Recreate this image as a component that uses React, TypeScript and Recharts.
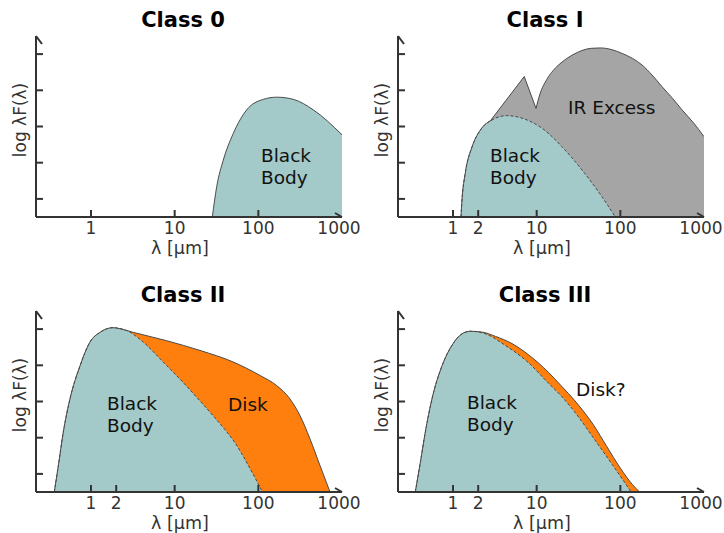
import React from 'react';
import { ComposedChart, Area, Line, XAxis, YAxis } from 'recharts';

// wavelength (µm) and log λF(λ)

// Class 0
const c0BodyLam = [28.2, 31.8, 38.1, 50.2, 72.6, 114.7, 165.7, 262, 454, 1000];
const c0BodyFlux = [0, 0.84, 1.57, 2.31, 2.96, 3.25, 3.31, 3.25, 2.96, 2.27];

// Class I
const c1BodyLam = [1.245, 1.28, 1.4, 1.69, 2.12, 2.92, 4.4, 6.68, 11.6, 20.1, 34.8, 60.3, 87.1];
const c1BodyFlux = [0, 0.47, 1.21, 1.94, 2.4, 2.68, 2.8, 2.73, 2.45, 1.94, 1.3, 0.56, 0];
const c1FeatureLam = [2.8, 7.1, 9.82];
const c1FeatureFlux = [2.66, 3.88, 3.0];
const c1HumpLam = [9.82, 10.96, 13.2, 15.8, 20.1, 27, 34.8, 45, 57.6, 80, 104.6, 140, 181.7, 240, 315, 420, 546, 750, 1000];
const c1HumpFlux = [3.0, 3.4, 3.8, 4.05, 4.28, 4.48, 4.6, 4.66, 4.67, 4.62, 4.52, 4.38, 4.2, 3.92, 3.6, 3.28, 2.96, 2.6, 2.22];

// Class II
const c2BodyLam = [0.364, 0.407, 0.466, 0.56, 0.74, 0.97, 1.28, 1.82, 2.67, 4.22, 7.3, 12.7, 20, 30, 40, 52.6, 70, 90, 112];
const c2BodyFlux = [0, 0.73, 1.65, 2.57, 3.49, 4.14, 4.41, 4.54, 4.46, 4.14, 3.59, 3.02, 2.52, 2.06, 1.72, 1.36, 0.88, 0.42, 0];
const c2DiskLam = [0.364, 0.407, 0.466, 0.56, 0.74, 0.97, 1.28, 1.82, 2.22, 3.2, 8.0, 20.1, 50.2, 104.6, 165.7, 239, 315, 414, 546, 719];
const c2DiskFlux = [0, 0.73, 1.65, 2.57, 3.49, 4.14, 4.41, 4.54, 4.51, 4.41, 4.18, 3.91, 3.59, 3.22, 2.94, 2.57, 2.11, 1.47, 0.73, 0];

// Class III
const c3BodyLam = [0.354, 0.407, 0.466, 0.56, 0.74, 0.97, 1.28, 1.61, 2.43, 4.22, 8.0, 13.9, 19.0, 30.1, 47.5, 80, 135];
const c3BodyFlux = [0, 0.82, 1.65, 2.57, 3.49, 4.05, 4.37, 4.44, 4.37, 4.05, 3.57, 3.0, 2.69, 2.14, 1.5, 0.76, 0];
const c3DiskLam = [0.354, 0.407, 0.466, 0.56, 0.74, 0.97, 1.28, 1.61, 2.2, 3.2, 5.07, 8.0, 13.9, 19.0, 30.1, 47.5, 68.7, 100, 140, 170];
const c3DiskFlux = [0, 0.82, 1.65, 2.57, 3.49, 4.05, 4.37, 4.44, 4.42, 4.3, 4.1, 3.79, 3.3, 2.97, 2.46, 1.86, 1.26, 0.66, 0.2, 0];

const xTicksClass0 = [1, 10, 100, 1000];
const xTicks = [1, 2, 10, 100, 1000];
const yTicks = [0.5, 1.5, 2.5, 3.5, 4.5];

const zip = (lam: number[], flux: number[]) => lam.map((l, i) => ({ lam: l, flux: flux[i] }));

const W = 362;
const H = 260;
const TEAL = '#a3c9c9';
const GREY = '#a5a5a5';
const ORANGE = '#ff7f0e';
const INK = '#4a4a4a';
const AXIS = '#333333';
const FONT = 'DejaVu Sans';

const XTick = (props: any) => {
  const { x, y, payload } = props;
  const last = payload.value >= 1000;
  return (
    <g>
      {!last && <line x1={x} x2={x} y1={y} y2={y - 7} stroke={AXIS} strokeWidth={2} />}
      <text x={last ? x - 3 : x} y={y + 17} textAnchor="middle" fontSize={17} fill="#333" fontFamily={FONT}>
        {payload.value}
      </text>
    </g>
  );
};

const YTick = (props: any) => {
  const { x, y } = props;
  return <line x1={x} x2={x + 7} y1={y} y2={y} stroke={AXIS} strokeWidth={2} />;
};

type Label = { lines: string[]; x: number; y: number };

function Panel({ left, top, title, ticks, labels, children }: {
  left: number; top: number; title: string; ticks: number[]; labels: Label[]; children: React.ReactNode;
}) {
  return (
    <div style={{ position: 'absolute', left, top, width: W, height: H }}>
      <ComposedChart width={W} height={H} margin={{ top: 36, right: 20, bottom: 0, left: 0 }}>
        <XAxis
          dataKey="lam"
          type="number"
          scale="log"
          domain={[0.22, 1000]}
          allowDataOverflow
          ticks={ticks}
          interval={0}
          height={43}
          tickSize={0}
          tickMargin={0}
          tickLine={false}
          tick={<XTick />}
          axisLine={{ stroke: AXIS, strokeWidth: 2, markerEnd: 'url(#xArrow)' }}
        />
        <YAxis
          type="number"
          domain={[0, 5]}
          ticks={yTicks}
          interval={0}
          width={36}
          tickSize={0}
          tickMargin={0}
          tickLine={false}
          tick={<YTick />}
          axisLine={{ stroke: AXIS, strokeWidth: 2, markerStart: 'url(#yArrow)' }}
        />
        {children}
      </ComposedChart>
      <svg width={W} height={H} style={{ position: 'absolute', left: 0, top: 0, pointerEvents: 'none' }} fontFamily={FONT}>
        <text x={183} y={27} textAnchor="middle" fontSize={21} fontWeight="bold" fill="#000">{title}</text>
        <text transform="translate(26,120) rotate(-90)" textAnchor="middle" fontSize={17} fill="#333">log λF(λ)</text>
        <text x={180} y={254} textAnchor="middle" fontSize={17.5} fill="#333">λ [μm]</text>
        {labels.map((l) => (
          <text key={l.lines[0]} x={l.x} y={l.y} fontSize={18.5} fill="#111">
            {l.lines.map((t, i) => (
              <tspan key={t} x={l.x} dy={i === 0 ? 0 : 21.5}>{t}</tspan>
            ))}
          </text>
        ))}
      </svg>
    </div>
  );
}

const area = (data: any[], fill: string, type: any = 'monotone') => (
  <Area data={data} dataKey="flux" type={type} fill={fill} fillOpacity={1} stroke="none" baseValue={0}
    dot={false} activeDot={false} isAnimationActive={false} />
);
const edge = (data: any[], dashed = false, type: any = 'monotone') => (
  <Line data={data} dataKey="flux" type={type} stroke={INK} strokeWidth={1} strokeDasharray={dashed ? '3 2' : undefined}
    dot={false} activeDot={false} isAnimationActive={false} />
);

export default function App() {
  const c0Body = zip(c0BodyLam, c0BodyFlux);
  const c1Body = zip(c1BodyLam, c1BodyFlux);
  const c1Feature = zip(c1FeatureLam, c1FeatureFlux);
  const c1Hump = zip(c1HumpLam, c1HumpFlux);
  const c2Body = zip(c2BodyLam, c2BodyFlux);
  const c2Disk = zip(c2DiskLam, c2DiskFlux);
  const c3Body = zip(c3BodyLam, c3BodyFlux);
  const c3Disk = zip(c3DiskLam, c3DiskFlux);

  return (
    <div style={{ position: 'relative', width: 724, height: 533, background: '#fff', overflow: 'hidden' }}>
      <style>{'body{margin:0} svg{overflow:visible}'}</style>
      <svg width={0} height={0} style={{ position: 'absolute' }}>
        <defs>
          <marker id="xArrow" markerUnits="userSpaceOnUse" orient="auto" overflow="visible" refX={0} refY={0} markerWidth={1} markerHeight={1}>
            <path d="M -7 -4 L 0 0" stroke={AXIS} strokeWidth={2} fill="none" />
          </marker>
          <marker id="yArrow" markerUnits="userSpaceOnUse" orient="auto-start-reverse" overflow="visible" refX={0} refY={0} markerWidth={1} markerHeight={1}>
            <path d="M -8 6 L 0 0" stroke={AXIS} strokeWidth={2} fill="none" />
          </marker>
        </defs>
      </svg>

      <Panel left={0} top={0} title="Class 0" ticks={xTicksClass0}
        labels={[{ lines: ['Black', 'Body'], x: 261, y: 162 }]}>
        {area(c0Body, TEAL)}
        {edge(c0Body)}
      </Panel>

      <Panel left={362} top={0} title="Class I" ticks={xTicks}
        labels={[{ lines: ['Black', 'Body'], x: 128, y: 162 }, { lines: ['IR Excess'], x: 206, y: 114 }]}>
        {area([...c1Feature, c1Hump[1]], GREY, 'linear')}
        {area(c1Hump, GREY)}
        {area(c1Body, TEAL)}
        {edge(c1Body, true)}
        {edge(c1Body.slice(0, 6))}
        {edge(c1Feature, false, 'linear')}
        {edge(c1Hump)}
      </Panel>

      <Panel left={0} top={275} title="Class II" ticks={xTicks}
        labels={[{ lines: ['Black', 'Body'], x: 107, y: 135 }, { lines: ['Disk'], x: 228, y: 135.5 }]}>
        {area(c2Disk, ORANGE)}
        {area(c2Body, TEAL)}
        {edge(c2Body, true)}
        {edge(c2Disk)}
      </Panel>

      <Panel left={362} top={275} title="Class III" ticks={xTicks}
        labels={[{ lines: ['Black', 'Body'], x: 105, y: 134 }, { lines: ['Disk?'], x: 214, y: 120.5 }]}>
        {area(c3Disk, ORANGE)}
        {area(c3Body, TEAL)}
        {edge(c3Body, true)}
        {edge(c3Disk)}
      </Panel>
    </div>
  );
}
